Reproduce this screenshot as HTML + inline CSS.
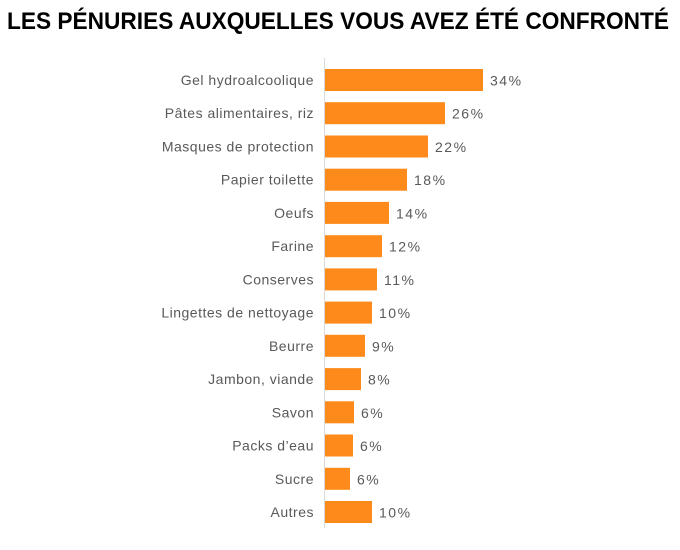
<!DOCTYPE html>
<html><head><meta charset="utf-8"><style>
html,body{margin:0;padding:0;background:#fff;}
svg{display:block;}
</style></head><body>
<svg width="680" height="550" xmlns="http://www.w3.org/2000/svg">
<rect width="680" height="550" fill="#fff"/>
<text x="7" y="29" font-family="Liberation Sans, sans-serif" font-weight="bold" font-size="24" fill="#000" textLength="662" lengthAdjust="spacingAndGlyphs">LES PÉNURIES AUXQUELLES VOUS AVEZ ÉTÉ CONFRONTÉ</text>
<line x1="324.5" y1="58" x2="324.5" y2="528" stroke="#d9d9d9" stroke-width="1"/>
<g fill="#fd8a1a">
<rect x="325" y="69.0" width="158" height="22"/>
<rect x="325" y="102.2" width="120" height="22"/>
<rect x="325" y="135.5" width="103" height="22"/>
<rect x="325" y="168.7" width="82" height="22"/>
<rect x="325" y="201.9" width="64" height="22"/>
<rect x="325" y="235.2" width="57" height="22"/>
<rect x="325" y="268.4" width="52" height="22"/>
<rect x="325" y="301.6" width="47" height="22"/>
<rect x="325" y="334.8" width="40" height="22"/>
<rect x="325" y="368.1" width="36" height="22"/>
<rect x="325" y="401.3" width="29" height="22"/>
<rect x="325" y="434.5" width="28" height="22"/>
<rect x="325" y="467.8" width="25" height="22"/>
<rect x="325" y="501.0" width="47" height="22"/>
</g>
<g font-family="Liberation Sans, sans-serif" font-size="14" fill="#595959" text-anchor="end" letter-spacing="0.5">
<text x="314" y="85">Gel hydroalcoolique</text>
<text x="314" y="118.2">Pâtes alimentaires, riz</text>
<text x="314" y="151.5">Masques de protection</text>
<text x="314" y="184.7">Papier toilette</text>
<text x="314" y="217.9">Oeufs</text>
<text x="314" y="251.2">Farine</text>
<text x="314" y="284.4">Conserves</text>
<text x="314" y="317.6">Lingettes de nettoyage</text>
<text x="314" y="350.8">Beurre</text>
<text x="314" y="384.1">Jambon, viande</text>
<text x="314" y="417.3">Savon</text>
<text x="314" y="450.5">Packs d’eau</text>
<text x="314" y="483.8">Sucre</text>
<text x="314" y="517">Autres</text>
</g>
<g font-family="Liberation Sans, sans-serif" font-size="14" fill="#595959" letter-spacing="1.5">
<text x="490" y="85.5">34%</text>
<text x="452" y="118.7">26%</text>
<text x="435" y="152">22%</text>
<text x="414" y="185.2">18%</text>
<text x="396" y="218.4">14%</text>
<text x="389" y="251.7">12%</text>
<text x="384" y="284.9">11%</text>
<text x="379" y="318.1">10%</text>
<text x="372" y="351.3">9%</text>
<text x="368" y="384.6">8%</text>
<text x="361" y="417.8">6%</text>
<text x="360" y="451">6%</text>
<text x="357" y="484.3">6%</text>
<text x="379" y="517.5">10%</text>
</g>
</svg>
</body></html>
